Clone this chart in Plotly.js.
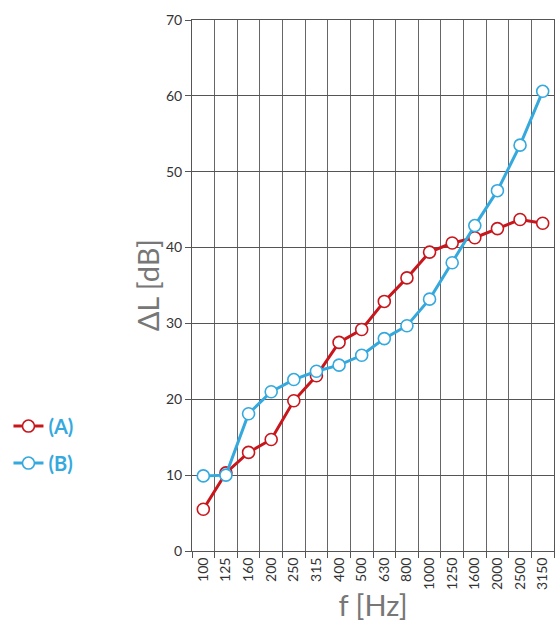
<!DOCTYPE html>
<html>
<head>
<meta charset="utf-8">
<script src="https://cdn.plot.ly/plotly-3.0.1.min.js"></script>
<style>html,body{margin:0;padding:0;background:#fff;}#chart{width:560px;height:627px;}</style>
</head>
<body>
<div id="chart"></div>
<script>
const freqLabels = ["100","125","160","200","250","315","400","500","630","800","1000","1250","1600","2000","2500","3150"];
const seriesA = [5.5,10.3,13.0,14.7,19.8,23.1,27.5,29.2,32.9,36.0,39.4,40.6,41.3,42.5,43.7,43.2];
const seriesB = [9.9,10.0,18.1,21.0,22.6,23.7,24.5,25.8,28.0,29.7,33.2,38.0,42.9,47.5,53.5,60.6];
const nameA = "(A)";
const nameB = "(B)";
const yTicks = [0,10,20,30,40,50,60,70];

const red = "#c8161d";
const blue = "#35a9de";
const font = "Lato, 'Open Sans', sans-serif";

const traces = [
  {x: freqLabels, y: seriesA, name: nameA, legendgroup: "a", type: "scatter", mode: "lines+markers",
   line: {color: red, width: 3},
   marker: {symbol: "circle", size: 12, color: "#ffffff", line: {color: red, width: 1.6}}},
  {x: freqLabels, y: seriesB, name: nameB, legendgroup: "b", type: "scatter", mode: "lines+markers",
   line: {color: blue, width: 3},
   marker: {symbol: "circle", size: 12, color: "#ffffff", line: {color: blue, width: 1.6}}}
];

const layout = {
  width: 560, height: 627,
  margin: {l: 192, r: 6, t: 20, b: 76},
  paper_bgcolor: "#fff", plot_bgcolor: "#fff",
  font: {family: font, color: "#333", size: 13},
  showlegend: true,
  legend: {x: -0.507, y: 0.272, xanchor: "left", yanchor: "top",
    font: {family: font, size: 20, color: blue, weight: "bold"},
    bgcolor: "rgba(0,0,0,0)", tracegroupgap: 8, itemwidth: 30},
  xaxis: {
    type: "category", range: [-0.5, 15.5],
    tickson: "boundaries", ticks: "outside", ticklen: 6, tickcolor: "#555",
    showgrid: true, gridcolor: "#666", gridwidth: 1,
    showline: true, linecolor: "#555", linewidth: 1, mirror: true,
    tickangle: -90, tickfont: {size: 14, color: "#333", family: font},
    title: {text: "f [Hz]", font: {size: 29, color: "#777", family: font}, standoff: 6},
    fixedrange: true
  },
  yaxis: {
    range: [0, 70], tickvals: yTicks, ticktext: yTicks.map(String),
    ticks: "outside", ticklen: 6, tickcolor: "#555",
    showgrid: true, gridcolor: "#555", gridwidth: 1, zeroline: false,
    showline: true, linecolor: "#555", linewidth: 1, mirror: true,
    tickfont: {size: 14, color: "#333", family: font},
    fixedrange: true
  },
  annotations: [{
    text: "ΔL [dB]", xref: "paper", yref: "paper", x: -0.122, y: 0.5,
    xanchor: "center", yanchor: "middle", textangle: -90, showarrow: false,
    font: {size: 29, color: "#777", family: font}
  }]
};

Plotly.newPlot("chart", traces, layout, {displayModeBar: false, staticPlot: true});
</script>
</body>
</html>
